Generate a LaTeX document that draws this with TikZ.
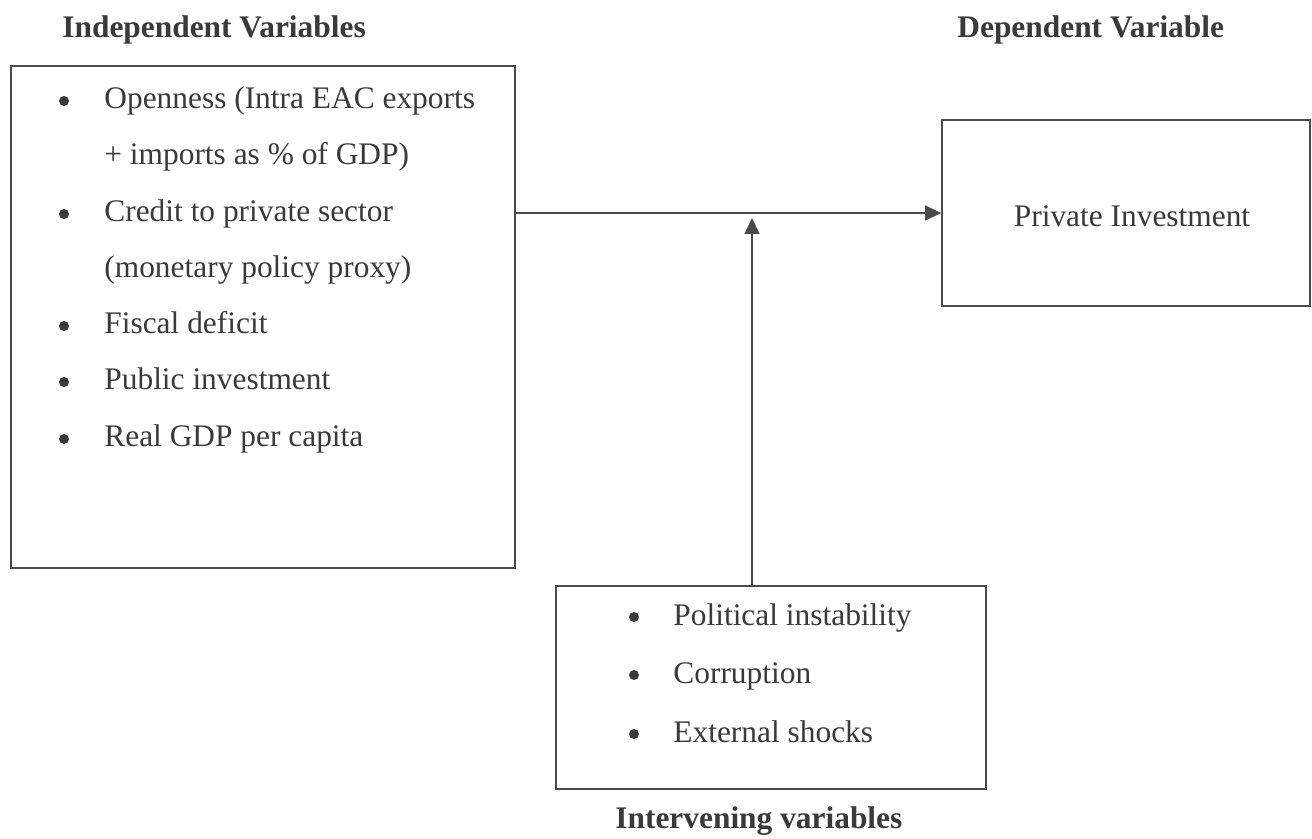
\documentclass[tikz,border=0pt]{standalone}
\usepackage{fontspec}
\setmainfont{Liberation Serif}
\usetikzlibrary{arrows.meta,fit}
\definecolor{ink}{HTML}{3A3A3A}
\definecolor{edge}{HTML}{4A4A4A}
\begin{document}
\begin{tikzpicture}[x=0.5pt,y=-0.5pt,
  box/.style={draw=edge,line width=0.9pt,inner sep=0pt,fit=#1},
  txt/.style={anchor=base west,inner sep=0pt,text=ink,font=\fontsize{15.7}{18}\selectfont},
  ttl/.style={anchor=base west,inner sep=0pt,text=ink,font=\fontsize{15.7}{18}\selectfont\bfseries},
  bul/.style={circle,fill=ink,inner sep=0pt,minimum size=5pt},
  arr/.style={draw=edge,line width=0.8pt,-{Triangle[length=8pt,width=7.5pt]}}]
\useasboundingbox (0,0) rectangle (1312,839);
% box corners
\coordinate (l1) at (11,66);   \coordinate (l2) at (515,568);
\coordinate (r1) at (942,120); \coordinate (r2) at (1310,306);
\coordinate (b1) at (556,586); \coordinate (b2) at (986,789);
\node[box={(l1)(l2)}] (lbox) {};
\node[box={(r1)(r2)}] (rbox) {};
\node[box={(b1)(b2)}] (bbox) {};
% titles
\node[ttl] (tind) at (62,38) {Independent Variables};
\node[ttl] (tdep) at (957,38) {Dependent Variable};
\node[ttl] (tint) at (615,828) {Intervening variables};
% left list
\node[bul] (bu1) at (64,101) {};
\node[txt] (i1a) at (104,109) {Openness (Intra EAC exports};
\node[txt] (i1b) at (104,165) {+ imports as \% of GDP)};
\node[bul] (bu2) at (64,214) {};
\node[txt] (i2a) at (104,222) {Credit to private sector};
\node[txt] (i2b) at (104,278) {(monetary policy proxy)};
\node[bul] (bu3) at (64,326) {};
\node[txt] (i3) at (104,334) {Fiscal deficit};
\node[bul] (bu4) at (64,382) {};
\node[txt] (i4) at (104,390) {Public investment};
\node[bul] (bu5) at (64,439) {};
\node[txt] (i5) at (104,447) {Real GDP per capita};
% dependent
\node[txt,anchor=base] (dep) at (1132,227) {Private Investment};
% intervening list
\node[bul] (bv1) at (634,617) {};
\node[txt] (v1) at (673,625) {Political instability};
\node[bul] (bv2) at (634,675) {};
\node[txt] (v2) at (673,683) {Corruption};
\node[bul] (bv3) at (634,734) {};
\node[txt] (v3) at (673,742) {External shocks};
% connectors
\coordinate (mid) at (752,218);
\draw[arr] (lbox.east |- rbox.west) -- (rbox.west);
\draw[arr] (bbox.north -| mid) -- (mid);
\end{tikzpicture}
\end{document}
